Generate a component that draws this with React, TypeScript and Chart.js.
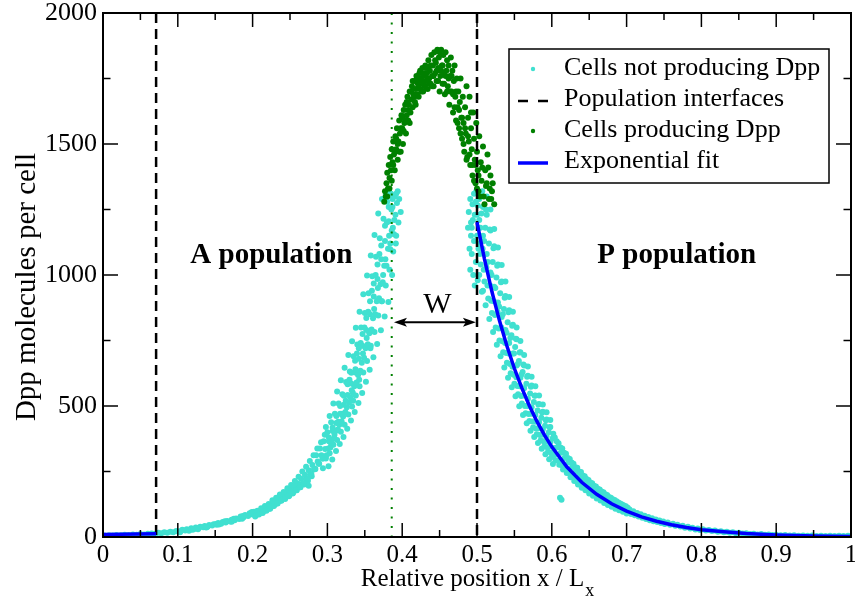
import React, { useEffect, useRef } from 'react';
import { Chart, registerables } from 'chart.js';

Chart.register(...registerables);

const SERIF = '"Liberation Serif", "Times New Roman", Times, serif';

const xTickValues = [0, 0.1, 0.2, 0.3, 0.4, 0.5, 0.6, 0.7, 0.8, 0.9, 1];
const xTickLabels = ['0', '0.1', '0.2', '0.3', '0.4', '0.5', '0.6', '0.7', '0.8', '0.9', '1'];
const yTickValues = [0, 500, 1000, 1500, 2000];
const yTickLabels = ['0', '500', '1000', '1500', '2000'];
const xTitle = 'Relative position x / L';
const xTitleSub = 'x';
const yTitle = 'Dpp molecules per cell';
const legendLabels = ['Cells not producing Dpp', 'Population interfaces', 'Cells producing Dpp', 'Exponential fit'];

const interfaceX = [0.071, 0.5];
const producerEdgeX = [0.386];

// Cells not producing Dpp, left (A) side
const cyanLeft = [
  [0.002, 6], [0.008, 7], [0.013, 6], [0.018, 8], [0.024, 7], [0.029, 9], [0.034, 8], [0.040, 10], [0.045, 9], [0.050, 11],
  [0.055, 10], [0.060, 12], [0.065, 13], [0.070, 12], [0.074, 16], [0.078, 14], [0.082, 18], [0.086, 16], [0.090, 20], [0.094, 18],
  [0.098, 23], [0.101, 20], [0.104, 23], [0.106, 28], [0.110, 25], [0.112, 30], [0.116, 28], [0.118, 33], [0.122, 31], [0.124, 36],
  [0.128, 34], [0.130, 39], [0.134, 37], [0.136, 42], [0.140, 40], [0.142, 46], [0.146, 44], [0.148, 49], [0.152, 47], [0.154, 53],
  [0.158, 51], [0.160, 57], [0.164, 55], [0.166, 61], [0.170, 59], [0.172, 66], [0.176, 64], [0.178, 71], [0.182, 69], [0.184, 78],
  [0.188, 75], [0.190, 84], [0.194, 80], [0.196, 91], [0.200, 86], [0.202, 96],
  [0.120, 28], [0.138, 36], [0.155, 48], [0.172, 58], [0.186, 70], [0.198, 92],
  [0.103, 18], [0.115, 24], [0.127, 30], [0.139, 38], [0.151, 50], [0.163, 60], [0.175, 70], [0.187, 80], [0.199, 95],
  [0.205, 84], [0.206, 95], [0.208, 89], [0.210, 92], [0.212, 104], [0.214, 97], [0.216, 101], [0.218, 113], [0.219, 106],
  [0.222, 108], [0.223, 122], [0.225, 115], [0.227, 118], [0.229, 132], [0.230, 124], [0.232, 130], [0.234, 145], [0.236, 137],
  [0.238, 140], [0.240, 158], [0.241, 148], [0.243, 150], [0.245, 170], [0.247, 160], [0.249, 158], [0.250, 182], [0.252, 170],
  [0.254, 168], [0.255, 195], [0.257, 182], [0.259, 178], [0.260, 205], [0.262, 192], [0.264, 190], [0.265, 222], [0.267, 205],
  [0.269, 200], [0.270, 238], [0.272, 220], [0.274, 215], [0.275, 255], [0.277, 238], [0.279, 232], [0.280, 275], [0.282, 258],
  [0.284, 260], [0.285, 312], [0.287, 288], [0.289, 280], [0.290, 338], [0.292, 312], [0.294, 300], [0.295, 365], [0.297, 336],
  [0.275, 196], [0.294, 262],
  [0.2035, 78], [0.2065, 100], [0.2085, 86], [0.2115, 110], [0.2135, 92], [0.2165, 118], [0.2185, 100], [0.2215, 126],
  [0.2235, 108], [0.2265, 140], [0.2285, 118], [0.2315, 150], [0.2335, 128], [0.2365, 162], [0.2385, 138], [0.2415, 172],
  [0.2435, 145], [0.2465, 186], [0.2485, 156], [0.2515, 198], [0.2535, 166], [0.2565, 214], [0.2585, 178], [0.2615, 230],
  [0.2635, 190], [0.2665, 250], [0.2685, 204], [0.2715, 268], [0.2735, 222], [0.2765, 290], [0.2785, 240], [0.2815, 312],
  [0.2835, 260], [0.2865, 338], [0.2885, 280], [0.2915, 362], [0.2935, 300], [0.2965, 390],
  [0.298, 300], [0.300, 400], [0.301, 338], [0.302, 365],
  [0.303, 320], [0.305, 438], [0.306, 368], [0.307, 405],
  [0.308, 352], [0.310, 470], [0.311, 405], [0.312, 435],
  [0.313, 370], [0.315, 510], [0.316, 428], [0.317, 470],
  [0.318, 402], [0.320, 545], [0.321, 460], [0.322, 505],
  [0.323, 428], [0.325, 592], [0.326, 495], [0.327, 542],
  [0.328, 468], [0.330, 632], [0.331, 532], [0.332, 586],
  [0.333, 498], [0.335, 690], [0.336, 575], [0.337, 628],
  [0.338, 540], [0.340, 735], [0.341, 618], [0.342, 680],
  [0.343, 575], [0.345, 800], [0.346, 665], [0.347, 730],
  [0.348, 628], [0.350, 855], [0.351, 720], [0.352, 790],
  [0.353, 672], [0.355, 930], [0.356, 778], [0.357, 850],
  [0.358, 730], [0.360, 995], [0.361, 835], [0.362, 918],
  [0.363, 782], [0.365, 1070], [0.366, 900], [0.367, 985],
  [0.368, 845], [0.370, 1140], [0.371, 965], [0.372, 1060],
  [0.373, 900], [0.375, 1215], [0.376, 1035], [0.377, 1130],
  [0.378, 960], [0.380, 1280], [0.381, 1100], [0.382, 1205],
  [0.383, 1020], [0.385, 1310], [0.386, 1170], [0.387, 1260],
  [0.388, 1090], [0.390, 1300], [0.391, 1230], [0.393, 1275],
  [0.395, 1200], [0.396, 1290], [0.398, 1240], [0.384, 1120], [0.392, 1150],
  [0.3015, 270], [0.299, 312], [0.302, 380], [0.298, 420],
  [0.3065, 296], [0.304, 342], [0.307, 418], [0.303, 462],
  [0.3115, 328], [0.309, 378], [0.312, 462], [0.308, 510],
  [0.3165, 355], [0.314, 410], [0.317, 500], [0.313, 555],
  [0.3215, 382], [0.319, 441], [0.322, 539], [0.318, 598],
  [0.3265, 413], [0.324, 477], [0.327, 583], [0.323, 646],
  [0.3315, 445], [0.329, 513], [0.332, 627], [0.328, 695],
  [0.3365, 477], [0.334, 551], [0.337, 673], [0.333, 747],
  [0.3415, 511], [0.339, 590], [0.342, 720], [0.338, 799],
  [0.3465, 550], [0.344, 635], [0.347, 775], [0.343, 860],
  [0.3515, 593], [0.349, 684], [0.352, 836], [0.348, 927],
  [0.3565, 638], [0.354, 736], [0.357, 900], [0.353, 998],
  [0.3615, 686], [0.359, 792], [0.362, 968], [0.358, 1074],
  [0.3665, 737], [0.364, 850], [0.367, 1040], [0.363, 1153],
  [0.3715, 789], [0.369, 911], [0.372, 1113], [0.368, 1235],
  [0.3765, 842], [0.374, 972], [0.377, 1188], [0.373, 1290],
  [0.3815, 897], [0.379, 1035], [0.382, 1260], [0.378, 1305],
  [0.3865, 1000], [0.384, 1098], [0.387, 1290], [0.383, 1315],
  [0.3915, 1120], [0.389, 1156], [0.392, 1310], [0.394, 1320],
  [0.3325, 560], [0.3375, 640], [0.3425, 600], [0.3475, 700], [0.3525, 760], [0.3575, 720], [0.3625, 870], [0.3675, 950],
  [0.3725, 900], [0.3775, 1060], [0.3825, 1150], [0.3875, 1180], [0.3245, 520], [0.3195, 470], [0.3145, 440], [0.3095, 390],
  [0.3045, 360], [0.3295, 600], [0.3345, 520], [0.3395, 700], [0.3445, 740], [0.3495, 800], [0.3545, 860], [0.3595, 940],
  [0.3645, 1000], [0.3695, 1080], [0.3745, 1000], [0.3795, 1200], [0.3855, 1250], [0.3895, 1210],
];

// Cells not producing Dpp, right (P) side
const cyanRight = [
  [0.489, 1240], [0.491, 1290], [0.492, 1200],
  [0.494, 1270], [0.496, 1310], [0.497, 1230], [0.493, 1180],
  [0.499, 1320], [0.500, 1150], [0.501, 1265], [0.503, 1210],
  [0.503, 1290], [0.505, 1040], [0.506, 1235], [0.508, 1150],
  [0.508, 1260], [0.510, 975], [0.511, 1180], [0.513, 1080],
  [0.513, 1230], [0.515, 910], [0.516, 1120], [0.518, 1010],
  [0.518, 1170], [0.520, 855], [0.521, 1050], [0.523, 955],
  [0.523, 1110], [0.525, 800], [0.526, 990], [0.528, 895],
  [0.528, 1040], [0.530, 750], [0.531, 930], [0.533, 840],
  [0.533, 975], [0.535, 705], [0.536, 870], [0.538, 790],
  [0.538, 920], [0.540, 665], [0.541, 820], [0.543, 740],
  [0.543, 865], [0.545, 625], [0.546, 770], [0.548, 700],
  [0.548, 810], [0.550, 585], [0.551, 725], [0.553, 655],
  [0.553, 755], [0.555, 545], [0.556, 672], [0.558, 608],
  [0.558, 705], [0.560, 510], [0.561, 630], [0.563, 568],
  [0.563, 655], [0.565, 472], [0.566, 585], [0.568, 528],
  [0.568, 615], [0.570, 443], [0.571, 548], [0.573, 495],
  [0.573, 578], [0.575, 418], [0.576, 515], [0.578, 466],
  [0.578, 540], [0.580, 392], [0.581, 483], [0.583, 438],
  [0.583, 508], [0.585, 368], [0.586, 455], [0.588, 410],
  [0.588, 478], [0.590, 345], [0.591, 425], [0.593, 385],
  [0.593, 448], [0.595, 325], [0.596, 400], [0.598, 362],
  [0.598, 420], [0.600, 305], [0.601, 376], [0.603, 340],
  [0.488, 1180], [0.490, 1100], [0.491, 1020], [0.492, 1150],
  [0.493, 1080], [0.495, 1000], [0.496, 1130], [0.497, 960],
  [0.4985, 1050], [0.501, 980], [0.502, 1100], [0.500, 1230],
  [0.5065, 936], [0.504, 1080], [0.507, 1320], [0.503, 1000],
  [0.5115, 885], [0.509, 1020], [0.512, 1250], [0.508, 940],
  [0.5165, 832], [0.514, 960], [0.517, 1174], [0.513, 1300],
  [0.5215, 782], [0.519, 902], [0.522, 1102], [0.518, 1250],
  [0.5265, 734], [0.524, 847], [0.527, 1035], [0.523, 1176],
  [0.5315, 690], [0.529, 796], [0.532, 972], [0.528, 1105],
  [0.5365, 647], [0.534, 747], [0.537, 913], [0.533, 1038],
  [0.5415, 608], [0.539, 702], [0.542, 858], [0.538, 975],
  [0.5465, 572], [0.544, 660], [0.547, 806], [0.543, 916],
  [0.5515, 537], [0.549, 619], [0.552, 757], [0.548, 860],
  [0.5565, 499], [0.554, 576], [0.557, 704], [0.553, 800],
  [0.5615, 466], [0.559, 538], [0.562, 658], [0.558, 748],
  [0.5665, 434], [0.564, 500], [0.567, 612], [0.563, 695],
  [0.5715, 406], [0.569, 469], [0.572, 573], [0.568, 651],
  [0.5765, 382], [0.574, 441], [0.577, 539], [0.573, 612],
  [0.5815, 359], [0.579, 414], [0.582, 506], [0.578, 575],
  [0.5865, 337], [0.584, 389], [0.587, 475], [0.583, 540],
  [0.5915, 316], [0.589, 365], [0.592, 446], [0.588, 506],
  [0.5965, 297], [0.594, 343], [0.597, 419], [0.593, 476],
  [0.6015, 279], [0.599, 322], [0.602, 394], [0.598, 447],
  [0.5025, 1120], [0.5075, 1100], [0.5125, 1030], [0.5175, 960], [0.5225, 900], [0.5275, 860], [0.5325, 800], [0.5375, 740],
  [0.5425, 700], [0.5475, 650], [0.5525, 610], [0.5575, 575], [0.5625, 540], [0.5675, 500], [0.5725, 470], [0.5775, 440],
  [0.5825, 415], [0.5875, 390], [0.5925, 365], [0.5975, 345], [0.5045, 1180], [0.5095, 1130], [0.5145, 1050], [0.5195, 1000],
  [0.5245, 950], [0.5295, 880], [0.5345, 850], [0.5395, 780], [0.5445, 760], [0.5495, 700], [0.5545, 660], [0.5595, 620],
  [0.4945, 1210], [0.4985, 1280],
  [0.604, 380], [0.605, 292], [0.607, 342], [0.609, 358], [0.610, 276], [0.612, 322],
  [0.614, 338], [0.615, 258], [0.617, 302], [0.619, 318], [0.620, 244], [0.622, 284],
  [0.624, 298], [0.625, 228], [0.627, 266], [0.629, 280], [0.630, 214], [0.632, 250],
  [0.634, 264], [0.635, 200], [0.637, 234], [0.639, 248], [0.640, 188], [0.642, 220],
  [0.644, 232], [0.645, 178], [0.647, 207], [0.649, 218], [0.650, 166], [0.652, 194],
  [0.654, 205], [0.655, 157], [0.657, 182], [0.659, 193], [0.660, 147], [0.662, 171],
  [0.664, 181], [0.665, 139], [0.667, 161], [0.669, 171], [0.670, 130], [0.672, 152],
  [0.674, 160], [0.675, 122], [0.677, 142], [0.679, 150], [0.680, 115], [0.682, 134],
  [0.684, 141], [0.685, 108], [0.687, 126], [0.689, 132], [0.690, 102], [0.692, 118],
  [0.694, 124], [0.695, 96], [0.697, 111], [0.699, 117], [0.700, 90], [0.702, 105],
  [0.6035, 312], [0.6065, 365], [0.6085, 292], [0.6115, 342], [0.6135, 274], [0.6165, 322], [0.6185, 258], [0.6215, 302],
  [0.6235, 243], [0.6265, 284], [0.6285, 228], [0.6315, 266], [0.6335, 214], [0.6365, 250], [0.6385, 201], [0.6415, 235],
  [0.6435, 189], [0.6465, 221], [0.6485, 178], [0.6515, 208], [0.6535, 168], [0.6565, 196], [0.6585, 158], [0.6615, 184],
  [0.6635, 149], [0.6665, 174], [0.6685, 140], [0.6715, 163], [0.6735, 132], [0.6765, 153], [0.6785, 124], [0.6815, 144],
  [0.6835, 117], [0.6865, 136], [0.6885, 110], [0.6915, 128], [0.6935, 104], [0.6965, 120], [0.6985, 98], [0.7015, 112],
  [0.613, 142], [0.611, 150],
  [0.704, 105], [0.706, 88], [0.709, 98], [0.711, 83], [0.714, 92], [0.716, 78], [0.719, 87], [0.721, 73],
  [0.724, 81], [0.726, 69], [0.729, 76], [0.731, 64], [0.734, 72], [0.736, 60], [0.739, 67], [0.741, 57],
  [0.744, 63], [0.746, 53], [0.749, 59], [0.751, 50], [0.755, 55], [0.758, 47], [0.762, 51], [0.765, 43],
  [0.768, 47], [0.772, 40], [0.775, 43], [0.778, 35], [0.782, 39], [0.785, 32], [0.788, 35], [0.792, 29],
  [0.795, 32], [0.798, 27],
  [0.802, 30], [0.806, 25], [0.810, 27], [0.814, 23], [0.818, 25], [0.822, 20], [0.826, 22], [0.830, 18],
  [0.834, 20], [0.838, 16], [0.842, 18], [0.846, 14], [0.850, 16], [0.855, 13], [0.860, 14], [0.865, 11],
  [0.870, 12], [0.875, 10], [0.880, 11], [0.885, 9], [0.890, 10], [0.895, 8], [0.900, 9], [0.906, 7],
  [0.912, 8], [0.918, 6], [0.924, 7], [0.930, 5], [0.936, 6], [0.942, 5], [0.948, 6], [0.954, 4],
  [0.960, 5], [0.966, 4], [0.972, 5], [0.978, 4], [0.984, 5], [0.990, 4], [0.996, 5], [1.0, 4],
];

// Cells producing Dpp
const greenCells = [
  [0.376, 1280], [0.377, 1320], [0.379, 1350], [0.378, 1300], [0.380, 1390], [0.381, 1330], [0.382, 1420], [0.383, 1370],
  [0.384, 1450], [0.385, 1400], [0.386, 1480], [0.387, 1430], [0.388, 1510], [0.389, 1460], [0.390, 1400], [0.391, 1530],
  [0.392, 1480], [0.393, 1560], [0.394, 1440], [0.395, 1510], [0.396, 1590], [0.397, 1540], [0.398, 1470], [0.399, 1610],
  [0.400, 1560], [0.401, 1500], [0.402, 1630], [0.403, 1580], [0.404, 1650], [0.405, 1540], [0.406, 1610], [0.407, 1680],
  [0.408, 1590], [0.409, 1650], [0.410, 1700], [0.411, 1620], [0.412, 1670], [0.413, 1720], [0.414, 1640], [0.415, 1690],
  [0.416, 1740], [0.417, 1660], [0.418, 1710], [0.419, 1760], [0.420, 1690], [0.421, 1730], [0.422, 1680], [0.423, 1770],
  [0.424, 1710], [0.425, 1750], [0.426, 1700], [0.427, 1790], [0.428, 1730], [0.429, 1760], [0.430, 1720], [0.431, 1800],
  [0.432, 1740], [0.433, 1770], [0.434, 1710], [0.435, 1820], [0.436, 1750], [0.437, 1780], [0.438, 1730], [0.439, 1840],
  [0.440, 1760], [0.441, 1800], [0.442, 1720], [0.443, 1850], [0.444, 1770], [0.445, 1810], [0.446, 1740], [0.447, 1860],
  [0.448, 1790], [0.449, 1830], [0.450, 1700], [0.451, 1760], [0.452, 1860], [0.453, 1800], [0.454, 1730], [0.455, 1840],
  [0.456, 1770], [0.457, 1690], [0.458, 1850], [0.459, 1780], [0.460, 1820], [0.461, 1720], [0.462, 1800], [0.463, 1650],
  [0.464, 1760], [0.465, 1830], [0.466, 1700], [0.467, 1780], [0.468, 1620], [0.469, 1740], [0.470, 1800], [0.471, 1680],
  [0.472, 1590], [0.473, 1750], [0.474, 1640], [0.475, 1700], [0.476, 1560], [0.477, 1660], [0.478, 1750], [0.479, 1600],
  [0.480, 1520], [0.481, 1680], [0.482, 1580], [0.483, 1470], [0.484, 1640], [0.485, 1540], [0.486, 1720], [0.487, 1450],
  [0.488, 1600], [0.489, 1510], [0.490, 1680], [0.491, 1420], [0.492, 1560], [0.493, 1480], [0.494, 1380], [0.495, 1620],
  [0.496, 1520], [0.497, 1440], [0.498, 1350], [0.499, 1580], [0.500, 1470], [0.501, 1400], [0.502, 1320], [0.503, 1530],
  [0.505, 1430], [0.506, 1360], [0.508, 1490], [0.509, 1300], [0.511, 1400], [0.512, 1340], [0.514, 1460], [0.516, 1290],
  [0.518, 1380], [0.520, 1320], [0.523, 1270],
  [0.380, 1300], [0.383, 1330], [0.386, 1360], [0.388, 1420], [0.390, 1470], [0.392, 1520], [0.394, 1500], [0.396, 1470],
  [0.398, 1560], [0.400, 1600], [0.402, 1550], [0.404, 1590], [0.406, 1660], [0.408, 1630], [0.410, 1580], [0.412, 1700],
  [0.414, 1740], [0.416, 1680], [0.418, 1650], [0.420, 1750], [0.422, 1720], [0.424, 1780], [0.426, 1740], [0.428, 1700],
  [0.430, 1770], [0.432, 1790], [0.434, 1750], [0.436, 1730], [0.438, 1800], [0.440, 1720], [0.442, 1760], [0.444, 1820],
  [0.446, 1780], [0.448, 1740], [0.450, 1850], [0.452, 1780], [0.454, 1800], [0.456, 1730], [0.458, 1760], [0.460, 1700],
  [0.462, 1750], [0.464, 1700], [0.466, 1760], [0.468, 1690], [0.470, 1640], [0.472, 1700], [0.474, 1580], [0.476, 1630],
  [0.478, 1540], [0.480, 1600], [0.482, 1500], [0.484, 1560], [0.486, 1440], [0.488, 1530], [0.490, 1460], [0.492, 1620],
  [0.494, 1420], [0.496, 1360], [0.498, 1420], [0.500, 1330], [0.502, 1380], [0.504, 1300], [0.507, 1410], [0.510, 1270],
  [0.513, 1350], [0.515, 1410], [0.517, 1330], [0.519, 1290], [0.521, 1350],
];

// Exponential fit (P side) and its short continuation near x = 0
const fitX = [0.5, 0.51, 0.52, 0.53, 0.54, 0.55, 0.56, 0.57, 0.58, 0.59, 0.6, 0.62, 0.64, 0.66, 0.68, 0.7, 0.72, 0.74, 0.76, 0.78, 0.8, 0.83, 0.86, 0.9, 0.95, 1.0];
const fitY = [1202, 1061, 936, 826, 729, 643, 568, 501, 442, 390, 344, 268, 209, 163, 127, 99, 77, 60, 47, 36, 28, 20, 13, 8, 4, 2];
const fitLeftX = [0, 0.071];
const fitLeftY = [10, 12];

const CYAN = '#40E0D0';
const GREEN = '#008000';
const BLUE = '#0000FF';

const toPts = (arr: number[][]) => arr.map(([x, y]) => ({ x, y }));
const zipPts = (xs: number[], ys: number[]) => xs.map((x, i) => ({ x, y: ys[i] }));

const decorPlugin = {
  id: 'decor',
  afterDraw(chart: any) {
    const { ctx, chartArea: a, scales } = chart;
    const xs = scales.x;
    const ys = scales.y;
    ctx.save();
    const line = (x1: number, y1: number, x2: number, y2: number) => {
      ctx.beginPath();
      ctx.moveTo(x1, y1);
      ctx.lineTo(x2, y2);
      ctx.stroke();
    };
    // inward ticks on all four sides
    ctx.strokeStyle = '#000';
    ctx.lineWidth = 1.5;
    for (let i = 0; i <= 20; i++) {
      const px = xs.getPixelForValue(i * 0.05);
      const len = i % 2 === 0 ? 14 : 7;
      line(px, a.bottom, px, a.bottom - len);
      line(px, a.top, px, a.top + len);
    }
    for (let i = 0; i <= 8; i++) {
      const py = ys.getPixelForValue(i * 250);
      const len = i % 2 === 0 ? 15 : 7.5;
      line(a.left, py, a.left + len, py);
      line(a.right, py, a.right - len, py);
    }
    // frame
    ctx.lineWidth = 2;
    ctx.strokeRect(a.left, a.top, a.right - a.left, a.bottom - a.top);

    // axis titles
    ctx.fillStyle = '#000';
    ctx.font = `25px ${SERIF}`;
    ctx.textBaseline = 'alphabetic';
    const w1 = ctx.measureText(xTitle).width;
    ctx.font = `18px ${SERIF}`;
    const w2 = ctx.measureText(xTitleSub).width;
    const cx = (a.left + a.right) / 2;
    const sx = cx - (w1 + w2) / 2;
    ctx.font = `25px ${SERIF}`;
    ctx.textAlign = 'left';
    ctx.fillText(xTitle, sx, 586);
    ctx.font = `18px ${SERIF}`;
    ctx.fillText(xTitleSub, sx + w1 + 1, 596);

    ctx.save();
    ctx.translate(27, 287);
    ctx.rotate(-Math.PI / 2);
    ctx.font = `29px ${SERIF}`;
    ctx.textAlign = 'center';
    ctx.textBaseline = 'middle';
    ctx.fillText(yTitle, 0, 0);
    ctx.restore();

    // annotations
    ctx.font = `bold 29px ${SERIF}`;
    ctx.textAlign = 'center';
    ctx.textBaseline = 'middle';
    ctx.fillText('A population', xs.getPixelForValue(0.225), ys.getPixelForValue(1075));
    ctx.fillText('P population', xs.getPixelForValue(0.767), ys.getPixelForValue(1075));
    ctx.font = `30px ${SERIF}`;
    ctx.fillText('W', xs.getPixelForValue(0.447), ys.getPixelForValue(885));
    const ay = ys.getPixelForValue(820);
    const ax0 = xs.getPixelForValue(0.389);
    const ax1 = xs.getPixelForValue(0.4985);
    ctx.lineWidth = 2;
    line(ax0 + 6, ay, ax1 - 6, ay);
    ctx.beginPath();
    ctx.moveTo(ax0, ay);
    ctx.lineTo(ax0 + 13, ay - 4.5);
    ctx.lineTo(ax0 + 10, ay);
    ctx.lineTo(ax0 + 13, ay + 4.5);
    ctx.closePath();
    ctx.fill();
    ctx.beginPath();
    ctx.moveTo(ax1, ay);
    ctx.lineTo(ax1 - 13, ay - 4.5);
    ctx.lineTo(ax1 - 10, ay);
    ctx.lineTo(ax1 - 13, ay + 4.5);
    ctx.closePath();
    ctx.fill();

    // legend
    const lx = 509, ly = 49, lw = 320, lh = 134;
    ctx.fillStyle = '#fff';
    ctx.fillRect(lx, ly, lw, lh);
    ctx.strokeStyle = '#000';
    ctx.lineWidth = 1.5;
    ctx.strokeRect(lx, ly, lw, lh);
    const baselines = [75, 106, 137, 168];
    const symY = [69, 101, 131, 163];
    ctx.fillStyle = CYAN;
    ctx.beginPath(); ctx.arc(533, symY[0], 2.2, 0, Math.PI * 2); ctx.fill();
    ctx.strokeStyle = '#000';
    ctx.lineWidth = 2.5;
    line(518, symY[1], 528, symY[1]);
    line(538, symY[1], 548, symY[1]);
    ctx.fillStyle = GREEN;
    ctx.beginPath(); ctx.arc(533, symY[2], 2.2, 0, Math.PI * 2); ctx.fill();
    ctx.strokeStyle = BLUE;
    ctx.lineWidth = 3.5;
    line(518, symY[3], 548, symY[3]);
    ctx.fillStyle = '#000';
    ctx.font = `26px ${SERIF}`;
    ctx.textAlign = 'left';
    ctx.textBaseline = 'alphabetic';
    legendLabels.forEach((t, i) => ctx.fillText(t, 564, baselines[i]));
    ctx.restore();
  },
};

export default function App() {
  const ref = useRef<HTMLCanvasElement>(null);
  useEffect(() => {
    if (!ref.current) return;
    const lineDs = (data: any[], color: string, width: number, dash: number[], order: number) => ({
      type: 'scatter' as const,
      data,
      showLine: true,
      borderColor: color,
      borderWidth: width,
      borderDash: dash,
      pointRadius: 0,
      fill: false,
      tension: 0,
      order,
    });
    const chart = new Chart(ref.current, {
      type: 'scatter',
      data: {
        datasets: [
          {
            data: toPts([...cyanLeft, ...cyanRight]),
            pointRadius: 3,
            pointBackgroundColor: CYAN,
            pointBorderWidth: 0,
            showLine: false,
            order: 5,
          } as any,
          ...interfaceX.map((v) => lineDs([{ x: v, y: 2000 }, { x: v, y: 0 }], '#000', 2.5, [10, 6], 1)),
          {
            data: toPts(greenCells),
            pointRadius: 3,
            pointBackgroundColor: GREEN,
            pointBorderWidth: 0,
            showLine: false,
            order: 4,
          } as any,
          ...producerEdgeX.map((v) => lineDs([{ x: v, y: 2000 }, { x: v, y: 0 }], GREEN, 2, [2, 7.5], 3)),
          lineDs(zipPts(fitX, fitY), BLUE, 3.5, [], 0),
          lineDs(zipPts(fitLeftX, fitLeftY), BLUE, 3.5, [], 0),
        ],
      },
      options: {
        animation: false,
        responsive: false,
        maintainAspectRatio: false,
        events: [],
        layout: { padding: { top: 13, right: 2, left: 0, bottom: 0 } },
        plugins: { legend: { display: false }, tooltip: { enabled: false } },
        scales: {
          x: {
            type: 'linear',
            min: 0,
            max: 1,
            position: 'bottom',
            afterBuildTicks: (s: any) => {
              s.ticks = xTickValues.map((value) => ({ value }));
            },
            afterFit: (s: any) => {
              s.height = 66;
              s.paddingLeft = 0;
              s.paddingRight = 0;
            },
            ticks: {
              callback: (_v: any, i: number) => xTickLabels[i],
              font: { family: SERIF, size: 25, lineHeight: 1 },
              color: '#000',
              padding: 6,
              maxRotation: 0,
              autoSkip: false,
            },
            grid: { display: false, drawTicks: false },
            border: { display: false },
          },
          y: {
            type: 'linear',
            min: 0,
            max: 2000,
            afterBuildTicks: (s: any) => {
              s.ticks = yTickValues.map((value) => ({ value }));
            },
            afterFit: (s: any) => {
              s.width = 103;
              s.paddingTop = 0;
              s.paddingBottom = 0;
            },
            ticks: {
              callback: (_v: any, i: number) => yTickLabels[i],
              font: { family: SERIF, size: 26, lineHeight: 1 },
              color: '#000',
              padding: 6,
              autoSkip: false,
            },
            grid: { display: false, drawTicks: false },
            border: { display: false },
          },
        },
      } as any,
      plugins: [decorPlugin],
    });
    return () => chart.destroy();
  }, []);
  return (
    <canvas
      ref={ref}
      width={855}
      height={603}
      style={{ position: 'absolute', left: 0, top: 0, width: 855, height: 603, background: '#fff' }}
    />
  );
}
